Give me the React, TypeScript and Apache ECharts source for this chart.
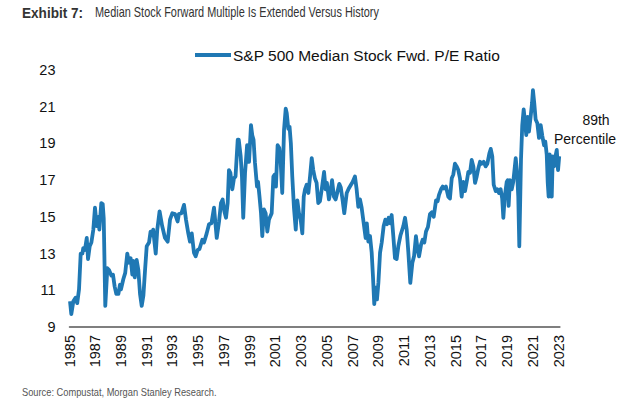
import React, { useEffect, useRef } from "react";
import * as echarts from "echarts";

const BASE_YEAR = 1985;
const yTicks = [9, 11, 13, 15, 17, 19, 21, 23];
const seriesName = "S&P 500 Median Stock Fwd. P/E Ratio";

// decimal years
const years = [
  1985.04, 1985.14, 1985.3, 1985.48, 1985.6, 1985.74, 1985.87, 1986.0, 1986.07, 1986.2,
  1986.34, 1986.44, 1986.57, 1986.7, 1986.85, 1986.98, 1987.11, 1987.24, 1987.32, 1987.47,
  1987.58, 1987.66, 1987.78, 1987.94, 1988.07, 1988.25, 1988.38, 1988.51, 1988.64, 1988.8,
  1988.92, 1989.0, 1989.18, 1989.33, 1989.49, 1989.62, 1989.75, 1989.88, 1989.95, 1990.07,
  1990.22, 1990.35, 1990.48, 1990.61, 1990.74, 1990.87, 1991.0, 1991.18, 1991.3, 1991.4,
  1991.5, 1991.7, 1991.82, 1992.0, 1992.2, 1992.42, 1992.63, 1992.81, 1992.99, 1993.2,
  1993.4, 1993.5, 1993.7, 1993.9, 1994.05, 1994.23, 1994.36, 1994.5, 1994.67, 1994.8,
  1994.96, 1995.1, 1995.32, 1995.45, 1995.66, 1995.84, 1996.03, 1996.23, 1996.44, 1996.62,
  1996.77, 1996.9, 1997.03, 1997.16, 1997.29, 1997.39, 1997.5, 1997.65, 1997.78, 1997.9,
  1998.07, 1998.15, 1998.3, 1998.4, 1998.5, 1998.64, 1998.8, 1998.95, 1999.1, 1999.2,
  1999.3, 1999.41, 1999.57, 1999.65, 1999.75, 1999.88, 1999.98, 2000.11, 2000.24, 2000.37,
  2000.5, 2000.71, 2000.84, 2000.94, 2001.04, 2001.17, 2001.3, 2001.4, 2001.53, 2001.67,
  2001.8, 2001.88, 2002.0, 2002.1, 2002.2, 2002.31, 2002.44, 2002.58, 2002.7, 2002.83,
  2002.96, 2003.09, 2003.2, 2003.3, 2003.43, 2003.56, 2003.69, 2003.82, 2003.94, 2004.07,
  2004.2, 2004.33, 2004.46, 2004.6, 2004.78, 2004.9, 2005.0, 2005.16, 2005.29, 2005.4,
  2005.55, 2005.68, 2005.8, 2005.96, 2006.08, 2006.22, 2006.35, 2006.54, 2006.7, 2006.87,
  2007.0, 2007.18, 2007.31, 2007.44, 2007.57, 2007.7, 2007.86, 2008.01, 2008.1, 2008.22,
  2008.35, 2008.48, 2008.58, 2008.68, 2008.79, 2008.89, 2009.0, 2009.13, 2009.26, 2009.41,
  2009.54, 2009.67, 2009.8, 2009.92, 2010.03, 2010.16, 2010.29, 2010.42, 2010.55, 2010.72,
  2010.94, 2011.07, 2011.2, 2011.33, 2011.48, 2011.64, 2011.77, 2011.92, 2012.05, 2012.16,
  2012.32, 2012.44, 2012.57, 2012.7, 2012.85, 2013.01, 2013.15, 2013.3, 2013.48, 2013.6,
  2013.71, 2013.87, 2014.0, 2014.1, 2014.25, 2014.43, 2014.56, 2014.7, 2014.82, 2014.95,
  2015.08, 2015.21, 2015.34, 2015.47, 2015.6, 2015.73, 2015.86, 2015.99, 2016.12, 2016.25,
  2016.38, 2016.51, 2016.64, 2016.77, 2016.9, 2017.03, 2017.18, 2017.33, 2017.47, 2017.62,
  2017.73, 2017.85, 2017.96, 2018.12, 2018.25, 2018.37, 2018.5, 2018.62, 2018.71, 2018.82,
  2018.97, 2019.05, 2019.12, 2019.22, 2019.36, 2019.48, 2019.67, 2019.78, 2019.87, 2019.95,
  2020.08, 2020.18, 2020.29, 2020.39, 2020.49, 2020.6, 2020.7, 2020.83, 2020.94, 2021.01,
  2021.11, 2021.22, 2021.35, 2021.48, 2021.61, 2021.74, 2021.87, 2021.97, 2022.08, 2022.16,
  2022.23, 2022.31, 2022.39, 2022.47, 2022.55, 2022.65, 2022.76, 2022.86, 2022.96, 2023.05,
];

const peRatio = [
  10.4, 9.7, 10.4, 10.6, 10.3, 11.05, 13.0, 13.0, 13.3, 13.2,
  13.85, 12.7, 13.4, 13.6, 14.3, 15.5, 14.5, 15.0, 14.3, 15.75,
  15.7, 14.9, 10.15, 12.2, 12.1, 11.8, 11.85, 11.2, 10.8, 10.8,
  11.3, 11.05, 11.6, 11.95, 13.0, 12.5, 12.75, 11.85, 12.6, 11.7,
  12.65, 12.1, 10.8, 10.15, 10.7, 12.1, 13.4, 13.6, 14.2, 14.0,
  14.3, 13.0, 14.3, 15.3, 14.5, 13.85, 13.65, 14.85, 15.2, 15.15,
  14.75, 15.15, 15.2, 15.65, 14.85, 14.1, 13.65, 14.1, 13.05, 12.85,
  13.2, 13.25, 13.75, 13.6, 14.1, 14.6, 14.65, 15.5, 13.85, 14.75,
  15.75, 15.95, 15.3, 14.95, 15.75, 17.55, 17.4, 16.5, 17.1, 17.2,
  19.2, 19.2, 18.3, 17.2, 14.95, 17.4, 18.9, 18.0, 20.0, 19.45,
  19.2, 17.95, 16.65, 16.9, 16.2, 15.2, 13.95, 15.4, 15.2, 14.2,
  14.85, 15.2, 17.2, 17.3, 16.65, 18.9, 18.75, 18.1, 16.3, 19.75,
  20.9, 20.65, 19.8, 19.9, 19.0, 17.2, 15.5, 14.3, 15.9, 15.2,
  14.85, 14.1, 16.1, 16.5, 16.75, 16.3, 17.2, 18.2, 17.55, 17.1,
  16.85, 15.75, 15.85, 16.5, 17.45, 16.5, 16.85, 15.95, 16.4, 17.0,
  16.1, 15.95, 16.3, 16.8, 16.6, 15.9, 15.2, 16.3, 16.55, 16.75,
  16.9, 17.2, 16.5, 15.55, 15.95, 15.5, 14.65, 13.85, 14.65, 13.65,
  13.95, 13.05, 11.75, 10.25, 11.15, 10.5, 11.4, 13.05, 13.6, 14.5,
  14.85, 14.6, 14.95, 14.65, 15.1, 13.95, 12.75, 12.7, 13.4, 14.0,
  14.5, 14.95, 14.3, 13.05, 11.4, 12.5, 12.85, 13.95, 13.2, 12.85,
  13.5, 13.75, 13.6, 14.2, 14.45, 15.15, 15.25, 15.0, 15.9, 15.85,
  16.2, 16.5, 16.65, 16.55, 16.65, 16.1, 16.0, 17.1, 17.3, 17.9,
  17.75, 17.55, 17.1, 16.1, 16.9, 16.4, 16.9, 17.45, 17.4, 18.1,
  17.75, 16.85, 17.2, 17.65, 18.0, 17.9, 18.0, 17.75, 17.9, 18.45,
  18.7, 18.3, 16.75, 16.4, 16.5, 16.3, 16.5, 16.0, 14.95, 16.1,
  16.9, 17.0, 15.6, 17.0, 16.5, 16.9, 18.2, 17.4, 16.1, 13.4,
  18.1, 20.0, 20.85, 20.2, 19.45, 20.45, 19.65, 20.45, 21.2, 21.9,
  21.2, 20.3, 20.1, 19.3, 20.0, 19.4, 18.9, 19.1, 18.4, 16.85,
  16.1, 18.4, 18.1, 16.1, 18.3, 17.75, 18.3, 18.65, 17.55, 18.3,
];

const annotationLines = ["89th", "Percentile"];
const titleBold = "Exhibit 7:";
const titleText = "Median Stock Forward Multiple Is Extended Versus History";
const sourceText = "Source: Compustat, Morgan Stanley Research.";

const LINE_COLOR = "#1f78b4";

export default function App() {
  const ref = useRef<HTMLDivElement>(null);

  useEffect(() => {
    if (!ref.current) return;
    const chart = echarts.init(ref.current, null, { renderer: "svg" });
    const data = years.map((y, i) => [y - BASE_YEAR, peRatio[i]]);
    const lastOffset = years[years.length - 1] - BASE_YEAR + 0.05;

    chart.setOption({
      animation: false,
      backgroundColor: "#ffffff",
      textStyle: { fontFamily: "Liberation Sans, Arial, sans-serif" },
      legend: {
        left: 190,
        top: 42,
        icon: "rect",
        itemWidth: 36,
        itemHeight: 4,
        itemGap: 10,
        textStyle: {
          fontFamily: "Liberation Sans, Arial",
          fontSize: 15.5,
          color: "#111111",
          padding: [0, 0, 0, -3],
        },
        data: [{ name: seriesName, itemStyle: { color: LINE_COLOR } }],
      },
      grid: {
        left: 69.5,
        right: 640 - (69.5 + lastOffset * 12.87),
        top: 70,
        bottom: 73,
        containLabel: false,
      },
      xAxis: {
        type: "value",
        min: 0,
        max: lastOffset,
        interval: 2,
        axisLine: { show: true, onZero: false, lineStyle: { color: "#555555", width: 1.5 } },
        axisTick: { show: false },
        splitLine: { show: false },
        axisLabel: {
          rotate: 90,
          margin: 8,
          fontSize: 14.5,
          color: "#111111",
          fontFamily: "Liberation Sans, Arial",
          showMaxLabel: false,
          formatter: (v: number) => {
            const r = Math.round(v);
            if (Math.abs(v - r) > 1e-6 || r % 2 !== 0) return "";
            return String(BASE_YEAR + r);
          },
        },
      },
      yAxis: {
        type: "value",
        min: yTicks[0],
        max: yTicks[yTicks.length - 1],
        interval: 2,
        axisLine: { show: false },
        axisTick: { show: false },
        splitLine: { show: false },
        axisLabel: {
          margin: 14,
          fontSize: 14.5,
          color: "#111111",
          fontFamily: "Liberation Sans, Arial",
        },
      },
      series: [
        {
          name: seriesName,
          type: "line",
          data,
          showSymbol: false,
          symbol: "none",
          lineStyle: { color: LINE_COLOR, width: 3.8, join: "round" },
          itemStyle: { color: LINE_COLOR },
          clip: false,
        },
      ],
      graphic: [
        {
          type: "text",
          x: 22,
          y: 13,
          scaleX: 0.97,
          style: {
            text: titleBold,
            fontSize: 14,
            fontWeight: "bold",
            fontFamily: "Liberation Sans, Arial",
            fill: "#333333",
            textVerticalAlign: "middle",
          },
        },
        {
          type: "text",
          x: 95,
          y: 13,
          scaleX: 0.78,
          style: {
            text: titleText,
            fontSize: 14,
            fontWeight: "normal",
            fontFamily: "Liberation Sans, Arial",
            fill: "#333333",
            textVerticalAlign: "middle",
          },
        },
        {
          type: "text",
          x: 596,
          y: 120,
          style: {
            text: annotationLines[0],
            fontSize: 14,
            fontFamily: "Liberation Sans, Arial",
            fill: "#111111",
            textAlign: "center",
            textVerticalAlign: "middle",
          },
        },
        {
          type: "text",
          x: 585,
          y: 139,
          style: {
            text: annotationLines[1],
            fontSize: 14,
            fontFamily: "Liberation Sans, Arial",
            fill: "#111111",
            textAlign: "center",
            textVerticalAlign: "middle",
          },
        },
        {
          type: "text",
          x: 22,
          y: 392,
          scaleX: 0.93,
          style: {
            text: sourceText,
            fontSize: 10,
            fontFamily: "Liberation Sans, Arial",
            fill: "#555555",
            textVerticalAlign: "middle",
          },
        },
      ],
    });

    return () => chart.dispose();
  }, []);

  return <div ref={ref} style={{ width: 640, height: 400, position: "fixed", left: 0, top: 0 }} />;
}
